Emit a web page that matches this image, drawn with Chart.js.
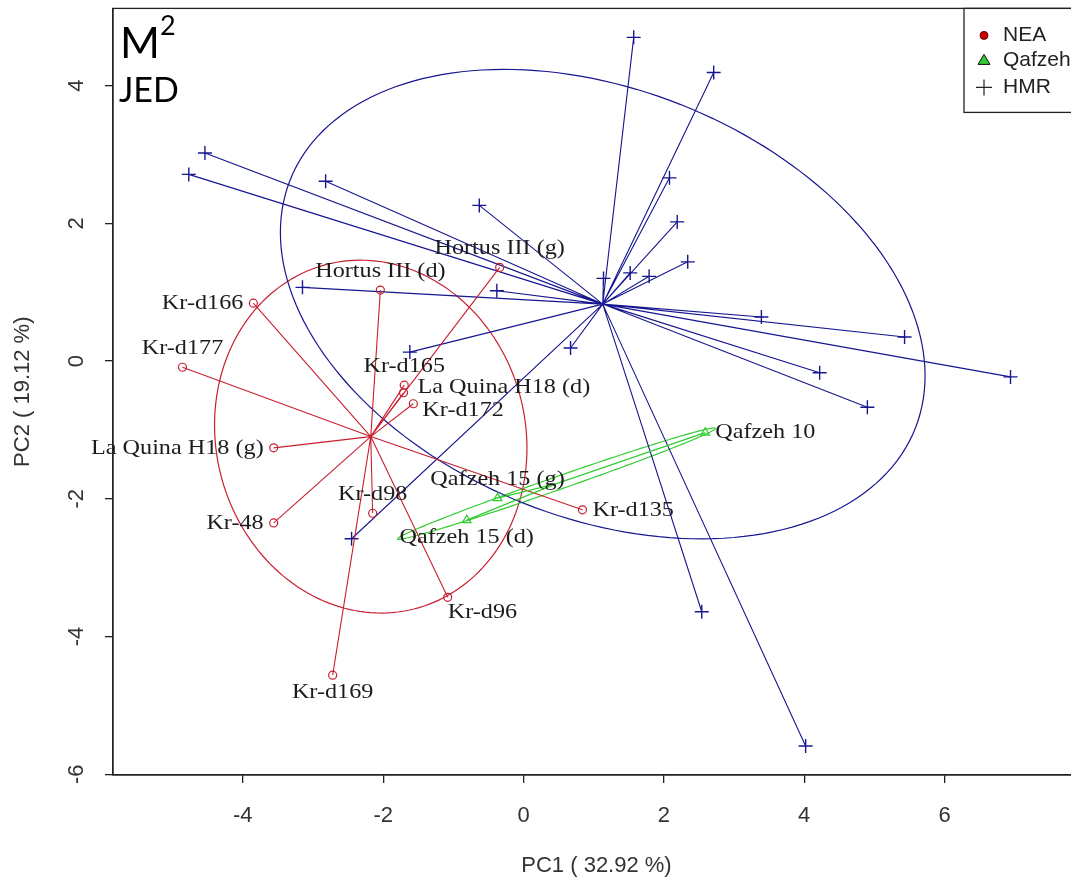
<!DOCTYPE html>
<html>
<head>
<meta charset="utf-8">
<script src="https://cdn.jsdelivr.net/npm/chart.js@4.4.1/dist/chart.umd.min.js"></script>
<style>
html, body { margin: 0; padding: 0; overflow: hidden; background: #fff; }
canvas { display: block; }
</style>
</head>
<body>
<canvas id="PcaChart" width="1090" height="880"></canvas>
<script>
// NEA (Neandertals)
const nea_names = ['Kr-d166', 'Kr-d177', 'Hortus III (d)', 'Hortus III (g)', 'Kr-d165', 'La Quina H18 (d)', 'Kr-d172',
                   'La Quina H18 (g)', 'Kr-48', 'Kr-d98', 'Kr-d135', 'Kr-d96', 'Kr-d169'];
const nea_x = [-3.85, -4.86, -2.04, -0.34, -1.70, -1.71, -1.57, -3.56, -3.56, -2.15, 0.84, -1.08, -2.72];
const nea_y = [0.84, -0.09, 1.03, 1.36, -0.35, -0.46, -0.62, -1.26, -2.35, -2.21, -2.16, -3.43, -4.56];

// Qafzeh
const qaf_names = ['Qafzeh 10', 'Qafzeh 15 (g)', 'Qafzeh 15 (d)'];
const qaf_x = [2.59, -0.37, -0.81];
const qaf_y = [-1.04, -1.99, -2.31];

// HMR (no labels)
const hmr_x = [1.57, 2.71, -4.54, -4.77, -2.82, -0.63, 2.08, 2.19, 2.34, 1.14, 1.52, 1.79,
               -3.15, -0.38, -1.62, 0.67, 3.39, 5.43, 6.94, 4.22, 4.90, 2.54, 4.02, -2.45];
const hmr_y = [4.70, 4.19, 3.02, 2.71, 2.61, 2.26, 2.66, 2.02, 1.44, 1.20, 1.28, 1.23,
               1.07, 1.02, 0.13, 0.19, 0.64, 0.35, -0.23, -0.17, -0.67, -3.64, -5.59, -2.58];

// where each label sits around its point
const nea_label_pos = ['left', 'above', 'above', 'above', 'above', 'right-high', 'right-low',
                       'left', 'left', 'above', 'right', 'below-right', 'below'];
const qaf_label_pos = ['right', 'above', 'below'];

const legend_names = ['NEA', 'Qafzeh', 'HMR'];
const x_ticks = [-4, -2, 0, 2, 4, 6];
const y_ticks = [-6, -4, -2, 0, 2, 4];

const RED = '#c81f30';
const GREEN = '#33cc33';
const BLUE = '#161690';

function mean(a) { return a.reduce((s, v) => s + v, 0) / a.length; }
function toPoints(xs, ys) { return xs.map((x, i) => ({x: x, y: ys[i]})); }
// lines from group centre to each point, split by gaps
function starLines(xs, ys) {
    const cx = mean(xs), cy = mean(ys);
    let out = [];
    for (let i = 0; i < xs.length; i++) {
        out.push({x: cx, y: cy}, {x: xs[i], y: ys[i]}, {x: null, y: null});
    }
    return out;
}

const groups = [
    {xs: nea_x, ys: nea_y, color: RED},
    {xs: qaf_x, ys: qaf_y, color: GREEN},
    {xs: hmr_x, ys: hmr_y, color: BLUE}
];

// ellipse of each group (1.5 x standard deviation), drawn through the scales
const ellipsePlugin = {
    id: 'ellipses',
    beforeDatasetsDraw(chart) {
        const ctx = chart.ctx, sx = chart.scales.x, sy = chart.scales.y;
        ctx.save();
        ctx.beginPath();
        ctx.rect(chart.chartArea.left, chart.chartArea.top, chart.chartArea.width, chart.chartArea.height);
        ctx.clip();
        groups.forEach(g => {
            const n = g.xs.length, mx = mean(g.xs), my = mean(g.ys);
            let vxx = 0, vyy = 0, vxy = 0;
            for (let i = 0; i < n; i++) {
                vxx += (g.xs[i] - mx) ** 2;
                vyy += (g.ys[i] - my) ** 2;
                vxy += (g.xs[i] - mx) * (g.ys[i] - my);
            }
            vxx /= n; vyy /= n; vxy /= n;
            const a = Math.sqrt(vxx), b = vxy / a, c = Math.sqrt(Math.max(vyy - b * b, 0));
            ctx.strokeStyle = g.color;
            ctx.lineWidth = 1.2;
            ctx.beginPath();
            for (let i = 0; i <= 180; i++) {
                const t = i / 180 * 2 * Math.PI, u = Math.cos(t), v = Math.sin(t);
                const px = sx.getPixelForValue(mx + 1.5 * a * u);
                const py = sy.getPixelForValue(my + 1.5 * (b * u + c * v));
                if (i === 0) ctx.moveTo(px, py); else ctx.lineTo(px, py);
            }
            ctx.stroke();
        });
        ctx.restore();
    }
};

function drawLabels(ctx, sx, sy, names, xs, ys, pos) {
    for (let i = 0; i < names.length; i++) {
        const px = sx.getPixelForValue(xs[i]), py = sy.getPixelForValue(ys[i]);
        let tx = px, ty = py, align = 'center';
        if (pos[i] === 'left') { tx = px - 10; align = 'right'; }
        else if (pos[i] === 'right') { tx = px + 10; align = 'left'; }
        else if (pos[i] === 'right-high') { tx = px + 14; ty = py - 6; align = 'left'; }
        else if (pos[i] === 'right-low') { tx = px + 9; ty = py + 6; align = 'left'; }
        else if (pos[i] === 'above') { ty = py - 19; }
        else if (pos[i] === 'below') { ty = py + 17; }
        else if (pos[i] === 'below-right') { ty = py + 15; align = 'left'; }
        ctx.save();
        ctx.translate(tx, ty);
        ctx.scale(1.1, 1);   // the serif labels are a little wide in the original
        ctx.textAlign = align;
        ctx.fillText(names[i], 0, 0);
        ctx.restore();
    }
}

const decorPlugin = {
    id: 'decor',
    afterDatasetsDraw(chart) {
        const ctx = chart.ctx, sx = chart.scales.x, sy = chart.scales.y;
        ctx.save();
        ctx.fillStyle = '#1c1c1c';
        ctx.font = '22px "Liberation Serif", "Times New Roman", serif';
        ctx.textBaseline = 'middle';
        drawLabels(ctx, sx, sy, nea_names, nea_x, nea_y, nea_label_pos);
        drawLabels(ctx, sx, sy, qaf_names, qaf_x, qaf_y, qaf_label_pos);
        ctx.restore();
    },
    afterDraw(chart) {
        const ctx = chart.ctx, sx = chart.scales.x, sy = chart.scales.y, ca = chart.chartArea;
        ctx.save();
        // frame
        ctx.strokeStyle = '#222';
        ctx.lineWidth = 1.3;
        ctx.strokeRect(ca.left, ca.top, ca.width, ca.height);

        // tick labels
        ctx.fillStyle = '#333';
        ctx.font = '22px "Liberation Sans", Arial, sans-serif';
        ctx.textAlign = 'center';
        ctx.textBaseline = 'middle';
        sx.ticks.forEach(t => ctx.fillText(String(t.value), sx.getPixelForValue(t.value), ca.bottom + 41));
        sy.ticks.forEach(t => {
            ctx.save();
            ctx.translate(ca.left - 36, sy.getPixelForValue(t.value));
            ctx.rotate(-Math.PI / 2);
            ctx.fillText(String(t.value), 0, 0);
            ctx.restore();
        });
        // axis titles
        ctx.fillText('PC1 ( 32.92 %)', (ca.left + ca.right) / 2, ca.bottom + 91);
        ctx.save();
        ctx.translate(23, (ca.top + ca.bottom) / 2);
        ctx.rotate(-Math.PI / 2);
        ctx.fillText('PC2 ( 19.12 %)', 0, 0);
        ctx.restore();

        // legend box, top right inside the plot
        const lx = 964;
        ctx.fillStyle = '#fff';
        ctx.fillRect(lx, ca.top, ca.right - lx, 104);
        ctx.strokeStyle = '#222';
        ctx.lineWidth = 1.3;
        ctx.strokeRect(lx, ca.top, ca.right - lx, 104);
        const rows = [ca.top + 27, ca.top + 52, ca.top + 79];
        ctx.lineWidth = 1;
        ctx.fillStyle = '#cc0000'; ctx.strokeStyle = '#660000';
        ctx.beginPath(); ctx.arc(lx + 20, rows[0], 4, 0, 2 * Math.PI); ctx.fill(); ctx.stroke();
        ctx.fillStyle = '#33cc33'; ctx.strokeStyle = '#111';
        ctx.beginPath();
        ctx.moveTo(lx + 20, rows[1] - 6); ctx.lineTo(lx + 26, rows[1] + 4); ctx.lineTo(lx + 14, rows[1] + 4);
        ctx.closePath(); ctx.fill(); ctx.stroke();
        ctx.strokeStyle = '#222'; ctx.lineWidth = 1.2;
        ctx.beginPath();
        ctx.moveTo(lx + 12, rows[2]); ctx.lineTo(lx + 28, rows[2]);
        ctx.moveTo(lx + 20, rows[2] - 8); ctx.lineTo(lx + 20, rows[2] + 8);
        ctx.stroke();
        ctx.fillStyle = '#222';
        ctx.textAlign = 'left';
        ctx.font = '21px "Liberation Sans", Arial, sans-serif';
        legend_names.forEach((n, i) => ctx.fillText(n, lx + 39, rows[i]));

        // panel title
        ctx.fillStyle = '#000';
        ctx.textBaseline = 'alphabetic';
        ctx.font = '43px Lato, "Open Sans", sans-serif';
        ctx.fillText('M', ca.left + 7, 58);
        const mw = ctx.measureText('M').width;
        ctx.font = '27px Lato, "Open Sans", sans-serif';
        ctx.fillText('2', ca.left + 7 + mw, 35);
        ctx.font = '34px Lato, "Open Sans", sans-serif';
        ctx.fillText('JED', ca.left + 6, 102);
        ctx.restore();
    }
};

const data = {
    datasets: [
        {label: 'Qafzeh', data: toPoints(qaf_x, qaf_y), pointStyle: 'triangle', pointRadius: 5,
         borderColor: GREEN, backgroundColor: 'rgba(0,0,0,0)', pointBorderWidth: 1.2, order: 0},
        {label: 'Qafzeh lines', data: starLines(qaf_x, qaf_y), showLine: true, spanGaps: false, pointRadius: 0,
         borderColor: GREEN, borderWidth: 1.2, order: 1},
        {label: 'NEA', data: toPoints(nea_x, nea_y), pointStyle: 'circle', pointRadius: 4,
         borderColor: RED, backgroundColor: 'rgba(0,0,0,0)', pointBorderWidth: 1.2, order: 2},
        {label: 'NEA lines', data: starLines(nea_x, nea_y), showLine: true, spanGaps: false, pointRadius: 0,
         borderColor: RED, borderWidth: 1.1, order: 3},
        {label: 'HMR', data: toPoints(hmr_x, hmr_y), pointStyle: 'cross', pointRadius: 7,
         borderColor: BLUE, pointBorderWidth: 1.4, order: 4},
        {label: 'HMR lines', data: starLines(hmr_x, hmr_y), showLine: true, spanGaps: false, pointRadius: 0,
         borderColor: BLUE, borderWidth: 1.1, order: 5}
    ]
};

const config = {
    type: 'scatter',
    data: data,
    options: {
        responsive: false,
        animation: false,
        layout: { padding: { top: 8, right: 10, left: 0, bottom: 0 } },
        plugins: { legend: { display: false }, tooltip: { enabled: false } },
        scales: {
            x: {
                type: 'linear', position: 'bottom', min: -5.85, max: 7.93,
                afterBuildTicks: s => { s.ticks = x_ticks.map(v => ({value: v})); },
                afterFit: s => { s.height = 105; },
                ticks: { display: false },
                grid: { drawOnChartArea: false, drawTicks: true, tickLength: 8, color: '#222', lineWidth: 1.3 },
                border: { display: true, color: '#222', width: 1.3 }
            },
            y: {
                type: 'linear', position: 'left', min: -6.01, max: 5.12,
                afterBuildTicks: s => { s.ticks = y_ticks.map(v => ({value: v})); },
                afterFit: s => { s.width = 113; },
                ticks: { display: false },
                grid: { drawOnChartArea: false, drawTicks: true, tickLength: 8, color: '#222', lineWidth: 1.3 },
                border: { display: true, color: '#222', width: 1.3 }
            }
        }
    },
    plugins: [ellipsePlugin, decorPlugin]
};

new Chart(document.getElementById('PcaChart'), config);
</script>
</body>
</html>
